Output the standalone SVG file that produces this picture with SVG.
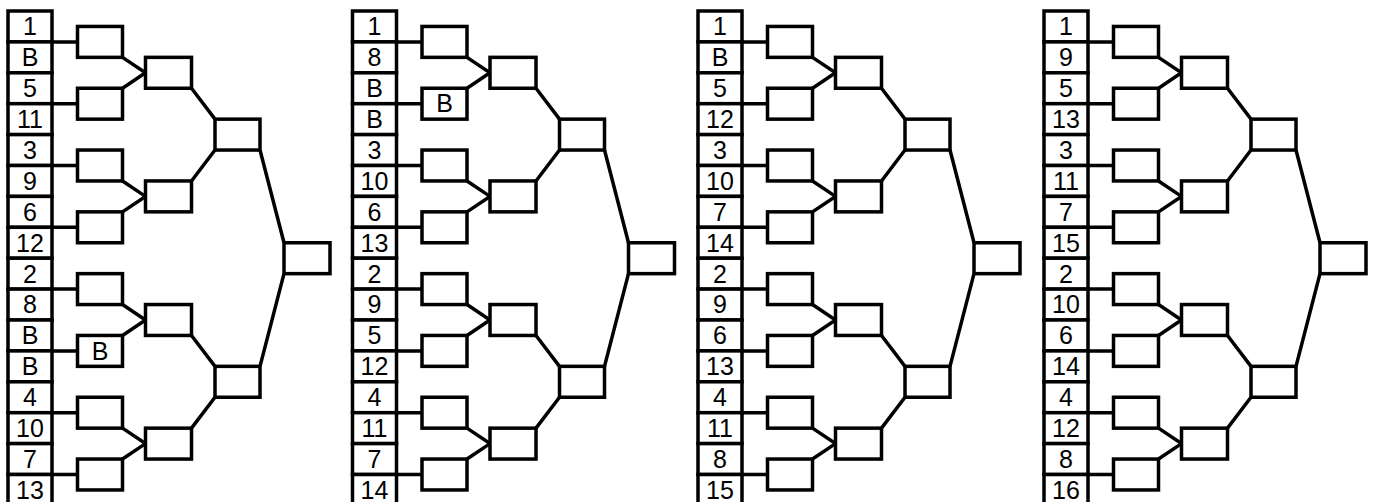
<svg xmlns="http://www.w3.org/2000/svg" width="1374" height="502" viewBox="0 0 1374 502">
<style>
rect{fill:#fff;stroke:#000;stroke-width:3.5}
text{font-family:"Liberation Sans",Arial,sans-serif;font-size:25px;fill:#000;text-anchor:middle}
.conn path{fill:none;stroke:#000;stroke-width:3.5;stroke-linejoin:miter}
</style>
<rect x="0" y="0" width="1374" height="502" style="stroke:none"/>

<!-- Bracket 1 -->
<g id="bracket1" transform="translate(0,0)">
<g class="conn" id="b1-connectors">
<path d="M52 41.9H77.5M52 103.7H77.5M52 165.5H77.5M52 227.3H77.5M52 289.1H77.5M52 350.9H77.5M52 412.7H77.5M52 474.5H77.5"/>
<path d="M122.5 57.35L145.5 72.8L122.5 88.25M122.5 180.95L145.5 196.4L122.5 211.85M122.5 304.55L145.5 320L122.5 335.45M122.5 428.15L145.5 443.6L122.5 459.05"/>
<path d="M191.5 88.25L215 119.15M191.5 180.95L215 150.05M191.5 335.45L215 366.35M191.5 428.15L215 397.25"/>
<path d="M260 150.05L284 242.75M260 366.35L284 273.65"/>
</g>
<g class="seed" id="b1-s01"><rect x="8" y="11" width="44" height="30.9"/><text x="30" y="35.3">1</text></g>
<g class="seed" id="b1-s02"><rect x="8" y="41.9" width="44" height="30.9"/><text x="30" y="66.2">B</text></g>
<g class="seed" id="b1-s03"><rect x="8" y="72.8" width="44" height="30.9"/><text x="30" y="97.1">5</text></g>
<g class="seed" id="b1-s04"><rect x="8" y="103.7" width="44" height="30.9"/><text x="30" y="128">11</text></g>
<g class="seed" id="b1-s05"><rect x="8" y="134.6" width="44" height="30.9"/><text x="30" y="158.9">3</text></g>
<g class="seed" id="b1-s06"><rect x="8" y="165.5" width="44" height="30.9"/><text x="30" y="189.8">9</text></g>
<g class="seed" id="b1-s07"><rect x="8" y="196.4" width="44" height="30.9"/><text x="30" y="220.7">6</text></g>
<g class="seed" id="b1-s08"><rect x="8" y="227.3" width="44" height="30.9"/><text x="30" y="251.6">12</text></g>
<g class="seed" id="b1-s09"><rect x="8" y="258.2" width="44" height="30.9"/><text x="30" y="282.5">2</text></g>
<g class="seed" id="b1-s10"><rect x="8" y="289.1" width="44" height="30.9"/><text x="30" y="313.4">8</text></g>
<g class="seed" id="b1-s11"><rect x="8" y="320" width="44" height="30.9"/><text x="30" y="344.3">B</text></g>
<g class="seed" id="b1-s12"><rect x="8" y="350.9" width="44" height="30.9"/><text x="30" y="375.2">B</text></g>
<g class="seed" id="b1-s13"><rect x="8" y="381.8" width="44" height="30.9"/><text x="30" y="406.1">4</text></g>
<g class="seed" id="b1-s14"><rect x="8" y="412.7" width="44" height="30.9"/><text x="30" y="437">10</text></g>
<g class="seed" id="b1-s15"><rect x="8" y="443.6" width="44" height="30.9"/><text x="30" y="467.9">7</text></g>
<g class="seed" id="b1-s16"><rect x="8" y="474.5" width="44" height="30.9"/><text x="30" y="498.8">13</text></g>
<g id="b1-r1-1"><rect x="77.5" y="26.45" width="45" height="30.9"/></g>
<g id="b1-r1-2"><rect x="77.5" y="88.25" width="45" height="30.9"/></g>
<g id="b1-r1-3"><rect x="77.5" y="150.05" width="45" height="30.9"/></g>
<g id="b1-r1-4"><rect x="77.5" y="211.85" width="45" height="30.9"/></g>
<g id="b1-r1-5"><rect x="77.5" y="273.65" width="45" height="30.9"/></g>
<g id="b1-r1-6"><rect x="77.5" y="335.45" width="45" height="30.9"/><text x="100" y="359.6">B</text></g>
<g id="b1-r1-7"><rect x="77.5" y="397.25" width="45" height="30.9"/></g>
<g id="b1-r1-8"><rect x="77.5" y="459.05" width="45" height="30.9"/></g>
<g id="b1-r2-1"><rect x="145.5" y="57.35" width="46" height="30.9"/></g>
<g id="b1-r2-2"><rect x="145.5" y="180.95" width="46" height="30.9"/></g>
<g id="b1-r2-3"><rect x="145.5" y="304.55" width="46" height="30.9"/></g>
<g id="b1-r2-4"><rect x="145.5" y="428.15" width="46" height="30.9"/></g>
<g id="b1-r3-1"><rect x="215" y="119.15" width="45" height="30.9"/></g>
<g id="b1-r3-2"><rect x="215" y="366.35" width="45" height="30.9"/></g>
<g id="b1-final"><rect x="284" y="242.75" width="46" height="30.9"/></g>
</g>

<!-- Bracket 2 -->
<g id="bracket2" transform="translate(344.5,0)">
<g class="conn" id="b2-connectors">
<path d="M52 41.9H77.5M52 103.7H77.5M52 165.5H77.5M52 227.3H77.5M52 289.1H77.5M52 350.9H77.5M52 412.7H77.5M52 474.5H77.5"/>
<path d="M122.5 57.35L145.5 72.8L122.5 88.25M122.5 180.95L145.5 196.4L122.5 211.85M122.5 304.55L145.5 320L122.5 335.45M122.5 428.15L145.5 443.6L122.5 459.05"/>
<path d="M191.5 88.25L215 119.15M191.5 180.95L215 150.05M191.5 335.45L215 366.35M191.5 428.15L215 397.25"/>
<path d="M260 150.05L284 242.75M260 366.35L284 273.65"/>
</g>
<g class="seed" id="b2-s01"><rect x="8" y="11" width="44" height="30.9"/><text x="30" y="35.3">1</text></g>
<g class="seed" id="b2-s02"><rect x="8" y="41.9" width="44" height="30.9"/><text x="30" y="66.2">8</text></g>
<g class="seed" id="b2-s03"><rect x="8" y="72.8" width="44" height="30.9"/><text x="30" y="97.1">B</text></g>
<g class="seed" id="b2-s04"><rect x="8" y="103.7" width="44" height="30.9"/><text x="30" y="128">B</text></g>
<g class="seed" id="b2-s05"><rect x="8" y="134.6" width="44" height="30.9"/><text x="30" y="158.9">3</text></g>
<g class="seed" id="b2-s06"><rect x="8" y="165.5" width="44" height="30.9"/><text x="30" y="189.8">10</text></g>
<g class="seed" id="b2-s07"><rect x="8" y="196.4" width="44" height="30.9"/><text x="30" y="220.7">6</text></g>
<g class="seed" id="b2-s08"><rect x="8" y="227.3" width="44" height="30.9"/><text x="30" y="251.6">13</text></g>
<g class="seed" id="b2-s09"><rect x="8" y="258.2" width="44" height="30.9"/><text x="30" y="282.5">2</text></g>
<g class="seed" id="b2-s10"><rect x="8" y="289.1" width="44" height="30.9"/><text x="30" y="313.4">9</text></g>
<g class="seed" id="b2-s11"><rect x="8" y="320" width="44" height="30.9"/><text x="30" y="344.3">5</text></g>
<g class="seed" id="b2-s12"><rect x="8" y="350.9" width="44" height="30.9"/><text x="30" y="375.2">12</text></g>
<g class="seed" id="b2-s13"><rect x="8" y="381.8" width="44" height="30.9"/><text x="30" y="406.1">4</text></g>
<g class="seed" id="b2-s14"><rect x="8" y="412.7" width="44" height="30.9"/><text x="30" y="437">11</text></g>
<g class="seed" id="b2-s15"><rect x="8" y="443.6" width="44" height="30.9"/><text x="30" y="467.9">7</text></g>
<g class="seed" id="b2-s16"><rect x="8" y="474.5" width="44" height="30.9"/><text x="30" y="498.8">14</text></g>
<g id="b2-r1-1"><rect x="77.5" y="26.45" width="45" height="30.9"/></g>
<g id="b2-r1-2"><rect x="77.5" y="88.25" width="45" height="30.9"/><text x="100" y="112.4">B</text></g>
<g id="b2-r1-3"><rect x="77.5" y="150.05" width="45" height="30.9"/></g>
<g id="b2-r1-4"><rect x="77.5" y="211.85" width="45" height="30.9"/></g>
<g id="b2-r1-5"><rect x="77.5" y="273.65" width="45" height="30.9"/></g>
<g id="b2-r1-6"><rect x="77.5" y="335.45" width="45" height="30.9"/></g>
<g id="b2-r1-7"><rect x="77.5" y="397.25" width="45" height="30.9"/></g>
<g id="b2-r1-8"><rect x="77.5" y="459.05" width="45" height="30.9"/></g>
<g id="b2-r2-1"><rect x="145.5" y="57.35" width="46" height="30.9"/></g>
<g id="b2-r2-2"><rect x="145.5" y="180.95" width="46" height="30.9"/></g>
<g id="b2-r2-3"><rect x="145.5" y="304.55" width="46" height="30.9"/></g>
<g id="b2-r2-4"><rect x="145.5" y="428.15" width="46" height="30.9"/></g>
<g id="b2-r3-1"><rect x="215" y="119.15" width="45" height="30.9"/></g>
<g id="b2-r3-2"><rect x="215" y="366.35" width="45" height="30.9"/></g>
<g id="b2-final"><rect x="284" y="242.75" width="46" height="30.9"/></g>
</g>

<!-- Bracket 3 -->
<g id="bracket3" transform="translate(690,0)">
<g class="conn" id="b3-connectors">
<path d="M52 41.9H77.5M52 103.7H77.5M52 165.5H77.5M52 227.3H77.5M52 289.1H77.5M52 350.9H77.5M52 412.7H77.5M52 474.5H77.5"/>
<path d="M122.5 57.35L145.5 72.8L122.5 88.25M122.5 180.95L145.5 196.4L122.5 211.85M122.5 304.55L145.5 320L122.5 335.45M122.5 428.15L145.5 443.6L122.5 459.05"/>
<path d="M191.5 88.25L215 119.15M191.5 180.95L215 150.05M191.5 335.45L215 366.35M191.5 428.15L215 397.25"/>
<path d="M260 150.05L284 242.75M260 366.35L284 273.65"/>
</g>
<g class="seed" id="b3-s01"><rect x="8" y="11" width="44" height="30.9"/><text x="30" y="35.3">1</text></g>
<g class="seed" id="b3-s02"><rect x="8" y="41.9" width="44" height="30.9"/><text x="30" y="66.2">B</text></g>
<g class="seed" id="b3-s03"><rect x="8" y="72.8" width="44" height="30.9"/><text x="30" y="97.1">5</text></g>
<g class="seed" id="b3-s04"><rect x="8" y="103.7" width="44" height="30.9"/><text x="30" y="128">12</text></g>
<g class="seed" id="b3-s05"><rect x="8" y="134.6" width="44" height="30.9"/><text x="30" y="158.9">3</text></g>
<g class="seed" id="b3-s06"><rect x="8" y="165.5" width="44" height="30.9"/><text x="30" y="189.8">10</text></g>
<g class="seed" id="b3-s07"><rect x="8" y="196.4" width="44" height="30.9"/><text x="30" y="220.7">7</text></g>
<g class="seed" id="b3-s08"><rect x="8" y="227.3" width="44" height="30.9"/><text x="30" y="251.6">14</text></g>
<g class="seed" id="b3-s09"><rect x="8" y="258.2" width="44" height="30.9"/><text x="30" y="282.5">2</text></g>
<g class="seed" id="b3-s10"><rect x="8" y="289.1" width="44" height="30.9"/><text x="30" y="313.4">9</text></g>
<g class="seed" id="b3-s11"><rect x="8" y="320" width="44" height="30.9"/><text x="30" y="344.3">6</text></g>
<g class="seed" id="b3-s12"><rect x="8" y="350.9" width="44" height="30.9"/><text x="30" y="375.2">13</text></g>
<g class="seed" id="b3-s13"><rect x="8" y="381.8" width="44" height="30.9"/><text x="30" y="406.1">4</text></g>
<g class="seed" id="b3-s14"><rect x="8" y="412.7" width="44" height="30.9"/><text x="30" y="437">11</text></g>
<g class="seed" id="b3-s15"><rect x="8" y="443.6" width="44" height="30.9"/><text x="30" y="467.9">8</text></g>
<g class="seed" id="b3-s16"><rect x="8" y="474.5" width="44" height="30.9"/><text x="30" y="498.8">15</text></g>
<g id="b3-r1-1"><rect x="77.5" y="26.45" width="45" height="30.9"/></g>
<g id="b3-r1-2"><rect x="77.5" y="88.25" width="45" height="30.9"/></g>
<g id="b3-r1-3"><rect x="77.5" y="150.05" width="45" height="30.9"/></g>
<g id="b3-r1-4"><rect x="77.5" y="211.85" width="45" height="30.9"/></g>
<g id="b3-r1-5"><rect x="77.5" y="273.65" width="45" height="30.9"/></g>
<g id="b3-r1-6"><rect x="77.5" y="335.45" width="45" height="30.9"/></g>
<g id="b3-r1-7"><rect x="77.5" y="397.25" width="45" height="30.9"/></g>
<g id="b3-r1-8"><rect x="77.5" y="459.05" width="45" height="30.9"/></g>
<g id="b3-r2-1"><rect x="145.5" y="57.35" width="46" height="30.9"/></g>
<g id="b3-r2-2"><rect x="145.5" y="180.95" width="46" height="30.9"/></g>
<g id="b3-r2-3"><rect x="145.5" y="304.55" width="46" height="30.9"/></g>
<g id="b3-r2-4"><rect x="145.5" y="428.15" width="46" height="30.9"/></g>
<g id="b3-r3-1"><rect x="215" y="119.15" width="45" height="30.9"/></g>
<g id="b3-r3-2"><rect x="215" y="366.35" width="45" height="30.9"/></g>
<g id="b3-final"><rect x="284" y="242.75" width="46" height="30.9"/></g>
</g>

<!-- Bracket 4 -->
<g id="bracket4" transform="translate(1036,0)">
<g class="conn" id="b4-connectors">
<path d="M52 41.9H77.5M52 103.7H77.5M52 165.5H77.5M52 227.3H77.5M52 289.1H77.5M52 350.9H77.5M52 412.7H77.5M52 474.5H77.5"/>
<path d="M122.5 57.35L145.5 72.8L122.5 88.25M122.5 180.95L145.5 196.4L122.5 211.85M122.5 304.55L145.5 320L122.5 335.45M122.5 428.15L145.5 443.6L122.5 459.05"/>
<path d="M191.5 88.25L215 119.15M191.5 180.95L215 150.05M191.5 335.45L215 366.35M191.5 428.15L215 397.25"/>
<path d="M260 150.05L284 242.75M260 366.35L284 273.65"/>
</g>
<g class="seed" id="b4-s01"><rect x="8" y="11" width="44" height="30.9"/><text x="30" y="35.3">1</text></g>
<g class="seed" id="b4-s02"><rect x="8" y="41.9" width="44" height="30.9"/><text x="30" y="66.2">9</text></g>
<g class="seed" id="b4-s03"><rect x="8" y="72.8" width="44" height="30.9"/><text x="30" y="97.1">5</text></g>
<g class="seed" id="b4-s04"><rect x="8" y="103.7" width="44" height="30.9"/><text x="30" y="128">13</text></g>
<g class="seed" id="b4-s05"><rect x="8" y="134.6" width="44" height="30.9"/><text x="30" y="158.9">3</text></g>
<g class="seed" id="b4-s06"><rect x="8" y="165.5" width="44" height="30.9"/><text x="30" y="189.8">11</text></g>
<g class="seed" id="b4-s07"><rect x="8" y="196.4" width="44" height="30.9"/><text x="30" y="220.7">7</text></g>
<g class="seed" id="b4-s08"><rect x="8" y="227.3" width="44" height="30.9"/><text x="30" y="251.6">15</text></g>
<g class="seed" id="b4-s09"><rect x="8" y="258.2" width="44" height="30.9"/><text x="30" y="282.5">2</text></g>
<g class="seed" id="b4-s10"><rect x="8" y="289.1" width="44" height="30.9"/><text x="30" y="313.4">10</text></g>
<g class="seed" id="b4-s11"><rect x="8" y="320" width="44" height="30.9"/><text x="30" y="344.3">6</text></g>
<g class="seed" id="b4-s12"><rect x="8" y="350.9" width="44" height="30.9"/><text x="30" y="375.2">14</text></g>
<g class="seed" id="b4-s13"><rect x="8" y="381.8" width="44" height="30.9"/><text x="30" y="406.1">4</text></g>
<g class="seed" id="b4-s14"><rect x="8" y="412.7" width="44" height="30.9"/><text x="30" y="437">12</text></g>
<g class="seed" id="b4-s15"><rect x="8" y="443.6" width="44" height="30.9"/><text x="30" y="467.9">8</text></g>
<g class="seed" id="b4-s16"><rect x="8" y="474.5" width="44" height="30.9"/><text x="30" y="498.8">16</text></g>
<g id="b4-r1-1"><rect x="77.5" y="26.45" width="45" height="30.9"/></g>
<g id="b4-r1-2"><rect x="77.5" y="88.25" width="45" height="30.9"/></g>
<g id="b4-r1-3"><rect x="77.5" y="150.05" width="45" height="30.9"/></g>
<g id="b4-r1-4"><rect x="77.5" y="211.85" width="45" height="30.9"/></g>
<g id="b4-r1-5"><rect x="77.5" y="273.65" width="45" height="30.9"/></g>
<g id="b4-r1-6"><rect x="77.5" y="335.45" width="45" height="30.9"/></g>
<g id="b4-r1-7"><rect x="77.5" y="397.25" width="45" height="30.9"/></g>
<g id="b4-r1-8"><rect x="77.5" y="459.05" width="45" height="30.9"/></g>
<g id="b4-r2-1"><rect x="145.5" y="57.35" width="46" height="30.9"/></g>
<g id="b4-r2-2"><rect x="145.5" y="180.95" width="46" height="30.9"/></g>
<g id="b4-r2-3"><rect x="145.5" y="304.55" width="46" height="30.9"/></g>
<g id="b4-r2-4"><rect x="145.5" y="428.15" width="46" height="30.9"/></g>
<g id="b4-r3-1"><rect x="215" y="119.15" width="45" height="30.9"/></g>
<g id="b4-r3-2"><rect x="215" y="366.35" width="45" height="30.9"/></g>
<g id="b4-final"><rect x="284" y="242.75" width="46" height="30.9"/></g>
</g>
</svg>
